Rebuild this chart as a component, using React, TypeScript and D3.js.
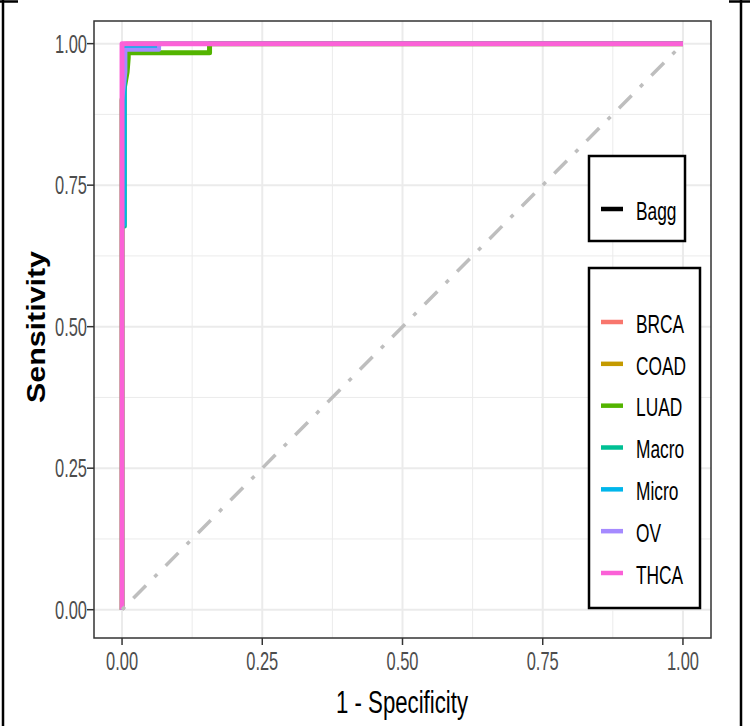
import React from "react";
import * as d3 from "d3";

type Pt = [number, number];

const classNames = ["BRCA", "COAD", "LUAD", "Macro", "Micro", "OV", "THCA"];
const classColors = ["#F8766D", "#C49A00", "#53B400", "#00C094", "#00B6EB", "#A58AFF", "#FB61D7"];

const rocBRCA: Pt[] = [[0, 0], [0, 0.97], [0.002, 0.985], [0.004, 1], [1, 1]];
const rocCOAD: Pt[] = [[0, 0], [0, 0.96], [0.003, 0.98], [0.006, 0.995], [0.008, 1], [1, 1]];
const rocLUAD: Pt[] = [[0, 0], [0, 0.9], [0.009, 0.95], [0.011, 0.975], [0.011, 0.984], [0.156, 0.984], [0.156, 1], [1, 1]];
const rocMacro: Pt[] = [[0, 0], [0, 0.677], [0.005, 0.677], [0.005, 0.99], [0.02, 0.995], [0.02, 1], [1, 1]];
const rocMicro: Pt[] = [[0, 0], [0, 0.68], [0.004, 0.68], [0.004, 0.994], [0.066, 0.994], [0.066, 1], [1, 1]];
const rocOV: Pt[] = [[0, 0], [0, 0.9], [0.006, 0.95], [0.006, 0.989], [0.066, 0.989], [0.066, 1], [1, 1]];
const rocTHCA: Pt[] = [[0, 0], [0, 1], [1, 1]];
const rocCurves = [rocBRCA, rocCOAD, rocLUAD, rocMacro, rocMicro, rocOV, rocTHCA];
const curveWidths = [4, 4, 5, 4, 4, 4, 5];

const diagonal: Pt[] = [[0, 0], [1, 1]];
const majorTicks = [0, 0.25, 0.5, 0.75, 1];
const minorTicks = [0.125, 0.375, 0.625, 0.875];
const tickLabels = ["0.00", "0.25", "0.50", "0.75", "1.00"];
const modelNames = ["Bagg"];
const xTitle = "1 - Specificity";
const yTitle = "Sensitivity";

export default function App() {
  const W = 750;
  const H = 726;
  const x = d3.scaleLinear().domain([-0.05, 1.05]).range([94, 711]);
  const y = d3.scaleLinear().domain([-0.05, 1.04]).range([638, 21]);
  const line = d3.line<Pt>().x((d) => x(d[0])).y((d) => y(d[1]));
  const legendY = d3.scalePoint<string>().domain(classNames).range([322, 573]);
  const font = "'Liberation Sans', Arial, sans-serif";
  const [x0, x1] = x.range();
  const [y0, y1] = y.range();

  return (
    <svg width={W} height={H} style={{ position: "absolute", left: 0, top: 0, background: "#fff" }} fontFamily={font}>
      <rect x={0} y={0} width={W} height={H} fill="#fff" />
      {/* outer frame */}
      <line x1={3} y1={0} x2={3} y2={H} stroke="#000" strokeWidth={2.5} />
      <line x1={741} y1={0} x2={741} y2={H} stroke="#000" strokeWidth={2.5} />
      <line x1={0} y1={1.5} x2={18} y2={1.5} stroke="#000" strokeWidth={2.5} />
      <line x1={729} y1={1.5} x2={W} y2={1.5} stroke="#000" strokeWidth={2.5} />

      {/* grid */}
      {minorTicks.map((t) => (
        <g key={"mn" + t}>
          <line x1={x(t)} x2={x(t)} y1={y1} y2={y0} stroke="#EBEBEB" strokeWidth={1} />
          <line x1={x0} x2={x1} y1={y(t)} y2={y(t)} stroke="#EBEBEB" strokeWidth={1} />
        </g>
      ))}
      {majorTicks.map((t) => (
        <g key={"mj" + t}>
          <line x1={x(t)} x2={x(t)} y1={y1} y2={y0} stroke="#EBEBEB" strokeWidth={2} />
          <line x1={x0} x2={x1} y1={y(t)} y2={y(t)} stroke="#EBEBEB" strokeWidth={2} />
        </g>
      ))}

      {/* curves */}
      {rocCurves.map((c, i) => (
        <path key={classNames[i]} d={line(c) || ""} fill="none" stroke={classColors[i]} strokeWidth={curveWidths[i]} strokeLinejoin="round" />
      ))}
      <path d={line(diagonal) || ""} fill="none" stroke="#BEBEBE" strokeWidth={3.5} strokeDasharray="4,12,18,12" />

      {/* panel border */}
      <rect x={x0} y={y1} width={x1 - x0} height={y0 - y1} fill="none" stroke="#333333" strokeWidth={1.5} />

      {/* axes ticks + labels */}
      {majorTicks.map((t, i) => (
        <g key={"xt" + t}>
          <line x1={x(t)} x2={x(t)} y1={y0} y2={y0 + 7} stroke="#333333" strokeWidth={1.5} />
          <text x={x(t)} y={661} textAnchor="middle" dominantBaseline="central" fontSize={25} fill="#4D4D4D" textLength={32} lengthAdjust="spacingAndGlyphs">
            {tickLabels[i]}
          </text>
          <line x1={x0 - 7} x2={x0} y1={y(t)} y2={y(t)} stroke="#333333" strokeWidth={1.5} />
          <text x={87} y={y(t)} textAnchor="end" dominantBaseline="central" fontSize={25} fill="#4D4D4D" textLength={32} lengthAdjust="spacingAndGlyphs">
            {tickLabels[i]}
          </text>
        </g>
      ))}
      <text x={402} y={713} textAnchor="middle" fontSize={31} fill="#000" textLength={132} lengthAdjust="spacingAndGlyphs">
        {xTitle}
      </text>
      <text transform="translate(45,327) rotate(-90)" textAnchor="middle" fontSize={25} fontWeight="bold" fill="#000" textLength={152} lengthAdjust="spacingAndGlyphs">
        {yTitle}
      </text>

      {/* legend: model */}
      <rect x={589} y={156} width={96} height={85} fill="#fff" stroke="#000" strokeWidth={2.5} />
      {modelNames.map((m) => (
        <g key={m}>
          <line x1={601} x2={623} y1={209} y2={209} stroke="#000" strokeWidth={4.5} />
          <g transform="translate(636,211) scale(0.667,1)">
            <text x={0} y={0} dominantBaseline="central" fontSize={26} fill="#000">{m}</text>
          </g>
        </g>
      ))}

      {/* legend: classes */}
      <rect x={589} y={268} width={111} height={340} fill="#fff" stroke="#000" strokeWidth={2.5} />
      {classNames.map((c, i) => (
        <g key={c}>
          <line x1={601} x2={623} y1={legendY(c)} y2={legendY(c)} stroke={classColors[i]} strokeWidth={4.5} />
          <g transform={`translate(636,${(legendY(c) || 0) + 2}) scale(0.667,1)`}>
            <text x={0} y={0} dominantBaseline="central" fontSize={26} fill="#000">{c}</text>
          </g>
        </g>
      ))}
    </svg>
  );
}
